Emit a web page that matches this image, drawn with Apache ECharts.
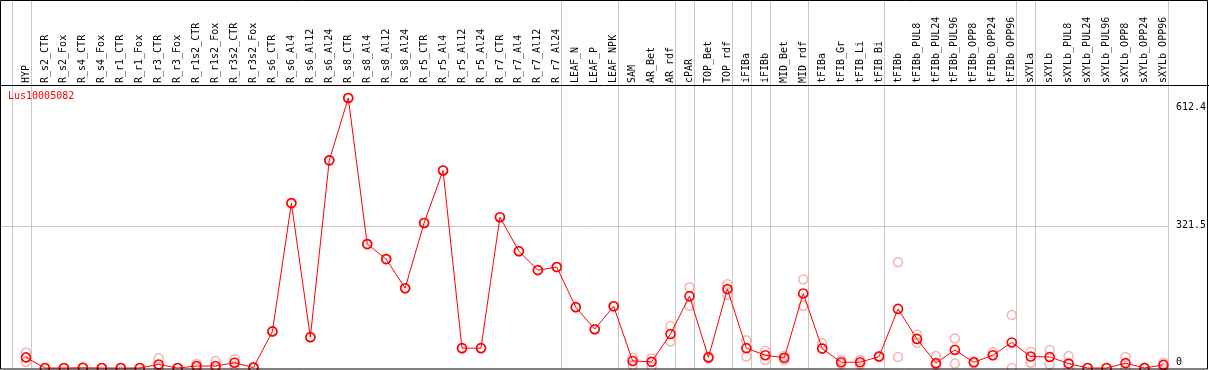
<!DOCTYPE html>
<html>
<head>
<meta charset="utf-8">
<script src="https://cdn.jsdelivr.net/npm/echarts@6/dist/echarts.min.js"></script>
<style>html,body{margin:0;padding:0;background:#fff}#c{width:1209px;height:370px}</style>
</head>
<body>
<div id="c"></div>
<script>
var geneName = 'Lus10005082';
var categories = ['HYP','R_s2_CTR','R_s2_Fox','R_s4_CTR','R_s4_Fox','R_r1_CTR','R_r1_Fox','R_r3_CTR','R_r3_Fox','R_r1s2_CTR','R_r1s2_Fox','R_r3s2_CTR','R_r3s2_Fox','R_s6_CTR','R_s6_Al4','R_s6_Al12','R_s6_Al24','R_s8_CTR','R_s8_Al4','R_s8_Al12','R_s8_Al24','R_r5_CTR','R_r5_Al4','R_r5_Al12','R_r5_Al24','R_r7_CTR','R_r7_Al4','R_r7_Al12','R_r7_Al24','LEAF_N','LEAF_P','LEAF_NPK','SAM','AR_Bet','AR_rdf','cPAR','TOP_Bet','TOP_rdf','iFIBa','iFIBb','MID_Bet','MID_rdf','tFIBa','tFIB_Gr','tFIB_Li','tFIB_Bi','tFIBb','tFIBb_PUL8','tFIBb_PUL24','tFIBb_PUL96','tFIBb_OPP8','tFIBb_OPP24','tFIBb_OPP96','sXYLa','sXYLb','sXYLb_PUL8','sXYLb_PUL24','sXYLb_PUL96','sXYLb_OPP8','sXYLb_OPP24','sXYLb_OPP96'];
var groupSizes = [1, 28, 3, 3, 1, 2, 1, 1, 2, 4, 7, 1, 7];
var meanValues = [24,0,0,0.5,0,0,0,8,0,4.5,4.5,12,1,83,374,70,471,612.4,281,247,181,329,448,45,45,342,265,222,229,138,88,140,16,14,77,163,24,179,45,29,23,169,44,13,13,26,134,66,11,41,13,29,58,26,25,10,0,0,11,0,7];
var rep1 = [35,0,0,1,0,0,0,22,0,9,16,20,3,83,374,70,471,612.4,281,247,181,329,448,45,45,342,265,222,229,138,88,140,23,22,95,183,26,190,63,39,28,201,56,18,18,28,240,76,27,67,15,36,120,37,41,27,0,0,25,1,12];
var rep2 = [14,0,0,0,0,0,0,0,0,0,0,5,0,83,374,70,471,612.4,281,247,181,329,448,45,45,342,265,222,229,138,88,140,6,3,60,141,22,166,26,18,18,141,45,9,8,25,25,57,7,10,11,29,0,12,8,0,0,0,0,0,0];
var yTicks = [0, 321.5, 612.4];

var MONO = 'DejaVu Sans Mono';
var chart = echarts.init(document.getElementById('c'), null, {renderer: 'canvas'});

// separator indices (after last item of each group), plus one before the first
var sepIdx = [-1];
(function(){ var s = -1; groupSizes.forEach(function(g){ s += g; sepIdx.push(s); }); })();

function repSeries(arr) {
  return {
    type: 'scatter', data: arr, symbol: 'circle', symbolSize: 9, z: 3,
    itemStyle: {color: 'transparent', borderColor: '#f4a0a0', borderWidth: 1.5},
    silent: true
  };
}

var option = {
  animation: false,
  backgroundColor: '#fff',
  title: {
    text: geneName, left: 8, top: 91, padding: 0,
    textStyle: {fontFamily: MONO, fontSize: 10, fontWeight: 'normal', color: '#ff0000'}
  },
  grid: {left: 16.5, right: 33.5, top: 98, bottom: 2, containLabel: false},
  xAxis: {
    type: 'category', data: categories, position: 'top', offset: 13,
    boundaryGap: true,
    axisLine: {show: false}, axisTick: {show: false}, splitLine: {show: false},
    axisLabel: {interval: 0, rotate: 90, margin: 2, fontFamily: MONO, fontSize: 10, color: '#000'}
  },
  yAxis: {
    type: 'value', position: 'right', min: 0, max: 612.4,
    axisLine: {show: false}, axisTick: {show: false}, splitLine: {show: false},
    axisLabel: {
      customValues: yTicks, margin: 3, align: 'left', fontFamily: MONO, fontSize: 10, color: '#000',
      formatter: function (v) {
        if (v === yTicks[0]) return '{b|' + v + '}';
        if (v === yTicks[2]) return '{t|' + v + '}';
        return '{m|' + v + '}';
      },
      rich: {
        b: {fontFamily: MONO, fontSize: 10, color: '#000', padding: [0, 0, 12, 0]},
        t: {fontFamily: MONO, fontSize: 10, color: '#000', padding: [18, 0, 0, 0]},
        m: {fontFamily: MONO, fontSize: 10, color: '#000', padding: [0, 0, 2, 0]}
      }
    }
  },
  series: [
    {
      type: 'custom', silent: true, z: 1, clip: false,
      data: [[0, 0]],
      renderItem: function (params, api) {
        var band = api.size([1, 0])[0];
        var x0 = api.coord([0, 0])[0];
        var cs = params.coordSys;
        var bottom = cs.y + cs.height + 1;
        var children = [];
        var lastX = 0;
        sepIdx.forEach(function (i) {
          var x = Math.round(x0 + (i + 0.24) * band) + 0.5;
          lastX = x;
          children.push({type: 'line', shape: {x1: x, y1: 0, x2: x, y2: bottom},
            style: {stroke: '#c8c8c8', lineWidth: 1}});
        });
        var gy = Math.round(api.coord([0, yTicks[1]])[1]) + 0.5;
        children.push({type: 'line', shape: {x1: 0, y1: gy, x2: lastX, y2: gy},
          style: {stroke: '#c8c8c8', lineWidth: 1}});
        return {type: 'group', children: children};
      }
    },
    repSeries(rep1),
    repSeries(rep2),
    {
      type: 'line', data: meanValues, symbol: 'circle', symbolSize: 9, z: 4,
      showAllSymbol: true, clip: false,
      lineStyle: {color: '#ff0000', width: 1},
      itemStyle: {color: 'transparent', borderColor: '#ff0000', borderWidth: 1.6},
      silent: true
    }
  ],
  graphic: [
    {type: 'rect', silent: true, z: 100, shape: {x: 0.5, y: 0.5, width: 1207, height: 368.5},
      style: {fill: 'none', stroke: '#000', lineWidth: 1}},
    {type: 'line', silent: true, z: 100, shape: {x1: 0, y1: 85.5, x2: 1209, y2: 85.5},
      style: {stroke: '#000', lineWidth: 1}}
  ]
};
chart.setOption(option);
</script>
</body>
</html>
